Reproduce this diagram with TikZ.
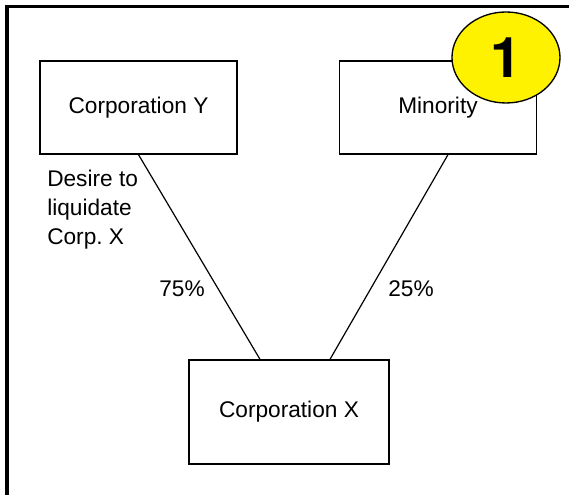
\documentclass[tikz,border=0pt]{standalone}
\usepackage{fontspec}
\setmainfont{Liberation Sans}
\newfontfamily\badgefont{TeX Gyre Heros}
\usetikzlibrary{shapes.geometric}

\begin{document}
\frenchspacing
\begin{tikzpicture}[x=0.75pt,y=0.75pt,
    corpbox/.style={draw,line width=1pt,minimum width=147.75pt,minimum height=69.75pt,inner sep=0pt},
    tag/.style={inner sep=0pt,align=left}]
  \useasboundingbox (0,0) rectangle (569,495);
  \fontsize{17}{21.75}\selectfont

  % Draw the frame on the left and top sides
  \coordinate (framebottom) at (7.2,0);
  \coordinate (framecorner) at (7.2,488.5);
  \coordinate (frameright) at (569,488.5);
  \draw[line width=2.6pt,line join=miter] (framebottom) -- (framecorner) -- (frameright);

  % Draw the three boxes
  \node[corpbox] (corpY) at (138.5,387.5) {Corporation Y};
  \node[corpbox] (minority) at (438,387.5) {Minority};
  \node[corpbox,minimum width=150pt,minimum height=78pt] (corpX) at (289,83) {Corporation X};

  % Draw the ownership lines
  \draw[line width=0.9pt] (corpY.south) -- ([xshift=-21.75pt]corpX.north);
  \draw[line width=0.9pt] ([xshift=7.5pt]minority.south) -- ([xshift=30.75pt]corpX.north);

  % Add the text beside the lines
  \node[tag,anchor=north west] (desire) at (47,325.5) {Desire to\\liquidate\\Corp. X};
  \node[tag] (pctY) at (182,206) {75\%};
  \node[tag] (pctMinority) at (411,206) {25\%};

  % Draw the yellow badge over the minority box
  \node[draw,ellipse,fill=yellow,line width=1pt,minimum width=81pt,minimum height=68.25pt,inner sep=0pt,
    font=\fontsize{42}{42}\badgefont\bfseries] (badge) at (506,437.5) {1};
\end{tikzpicture}
\end{document}
